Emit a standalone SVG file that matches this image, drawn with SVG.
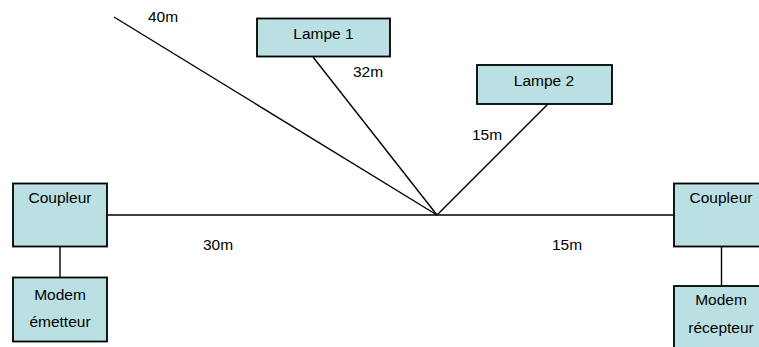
<svg xmlns="http://www.w3.org/2000/svg" width="759" height="347" viewBox="0 0 759 347">
<style>
.box{fill:#BBE0E3;stroke:#000;stroke-width:1.8}
.ln{stroke:#000;stroke-width:1.4;fill:none}
text{font-family:"Liberation Sans",Arial,sans-serif;font-size:15.5px;fill:#000}
.c{text-anchor:middle}
</style>
<rect width="759" height="347" fill="#fff"/>
<g id="connectors">
<line class="ln" x1="107" y1="215" x2="674" y2="215"/>
<line class="ln" x1="114" y1="17" x2="437" y2="215"/>
<line class="ln" x1="313" y1="57" x2="437" y2="215"/>
<line class="ln" x1="548" y1="104" x2="437" y2="215"/>
<line class="ln" x1="60" y1="247" x2="60" y2="277"/>
<line class="ln" x1="721.5" y1="246" x2="721.5" y2="286"/>
</g>
<g id="labels">
<text x="148" y="22">40m</text>
<text x="353" y="77">32m</text>
<text x="472" y="140">15m</text>
<text x="203" y="250">30m</text>
<text x="552" y="250">15m</text>
</g>
<g id="lampe1">
<rect class="box" x="257" y="18.5" width="133" height="38"/>
<text class="c" x="323.5" y="38.5">Lampe 1</text>
</g>
<g id="lampe2">
<rect class="box" x="477" y="65" width="135" height="39"/>
<text class="c" x="544" y="86">Lampe 2</text>
</g>
<g id="coupleur-left">
<rect class="box" x="13" y="183.5" width="94" height="63"/>
<text class="c" x="60" y="203">Coupleur</text>
</g>
<g id="modem-emetteur">
<rect class="box" x="13" y="277.5" width="94" height="64"/>
<text class="c" x="60" y="300">Modem</text>
<text class="c" x="60" y="327">émetteur</text>
</g>
<g id="coupleur-right">
<rect class="box" x="674" y="183.5" width="94" height="63"/>
<text class="c" x="721" y="203">Coupleur</text>
</g>
<g id="modem-recepteur">
<rect class="box" x="674" y="286" width="94" height="64"/>
<text class="c" x="721" y="305">Modem</text>
<text class="c" x="721" y="333">récepteur</text>
</g>
</svg>
